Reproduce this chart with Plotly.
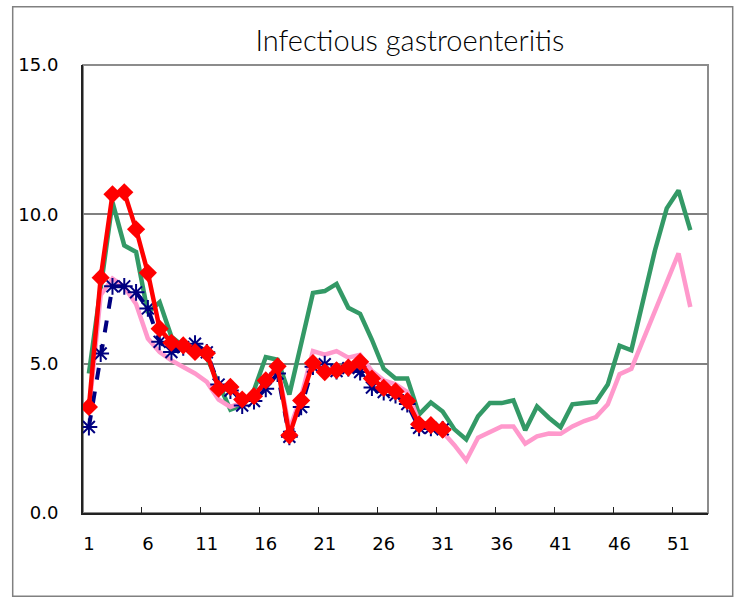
import plotly.graph_objects as go

weeks = list(range(1, 53))
tick_weeks = [1, 6, 11, 16, 21, 26, 31, 36, 41, 46, 51]
tick_labels = [str(w) for w in tick_weeks]
y_ticks = [0, 5, 10, 15]
y_labels = ["0.0", "5.0", "10.0", "15.0"]

green = [4.67, 7.6, 10.41, 8.96, 8.74, 6.7, 7.06, 5.9, 5.58, 5.52, 5.2, 4.33, 3.46, 3.61, 4.11,
         5.22, 5.13, 3.97, 5.75, 7.37, 7.43, 7.67, 6.87, 6.67, 5.8, 4.83, 4.5, 4.5, 3.3, 3.7,
         3.4, 2.8, 2.46, 3.24, 3.68, 3.68, 3.77, 2.77, 3.57, 3.19, 2.87, 3.64, 3.68, 3.72, 4.3,
         5.6, 5.45, 7.12, 8.79, 10.2, 10.8, 9.47]

pink = [3.4, 7.3, 7.85, 7.57, 7.0, 5.84, 5.39, 5.11, 4.89, 4.67, 4.39, 3.8, 3.55, 3.7, 3.9,
        4.4, 4.95, 2.8, 3.9, 5.42, 5.3, 5.42, 5.2, 5.3, 4.75, 4.44, 4.31, 4.05, 3.05, 2.94,
        2.71, 2.27, 1.76, 2.52, 2.71, 2.9, 2.9, 2.32, 2.57, 2.66, 2.65, 2.9, 3.08, 3.21, 3.64,
        4.65, 4.83, 5.8, 6.8, 7.75, 8.69, 6.9]

navy = [2.88, 5.34, 7.59, 7.59, 7.39, 6.85, 5.73, 5.39, 5.55, 5.67, 5.38, 4.3, 4.1, 3.6, 3.75,
        4.16, 4.67, 2.55, 3.55, 4.9, 4.98, 4.75, 4.85, 4.72, 4.2, 4.05, 3.95, 3.65, 2.85, 2.85,
        2.8]

red = [3.55, 7.88, 10.67, 10.74, 9.5, 8.04, 6.17, 5.7, 5.61, 5.39, 5.35, 4.16, 4.22, 3.8, 3.91,
       4.44, 4.91, 2.6, 3.77, 5.02, 4.72, 4.78, 4.87, 5.06, 4.5, 4.19, 4.07, 3.75, 2.97, 2.94,
       2.79]

n_slots = 53
x_range = [0.5, n_slots + 0.5]
boundary_ticks = [w - 0.5 for w in tick_weeks[1:]]

FONT = "Lato"
TICK_FONT = dict(family="DejaVu Sans", size=18, color="black")

fig = go.Figure()
fig.add_trace(go.Scatter(x=weeks, y=green, mode="lines",
                         line=dict(color="#339966", width=4.5), showlegend=False))
fig.add_trace(go.Scatter(x=weeks, y=pink, mode="lines",
                         line=dict(color="#ff99cc", width=4.5), showlegend=False))
fig.add_trace(go.Scatter(x=weeks[:len(navy)], y=navy, mode="lines+markers",
                         line=dict(color="#000080", width=4, dash="dash"),
                         marker=dict(symbol="asterisk-open", size=14,
                                     line=dict(color="#000080", width=2)),
                         showlegend=False))
fig.add_trace(go.Scatter(x=weeks[:len(red)], y=red, mode="lines+markers",
                         line=dict(color="#ff0000", width=4.5),
                         marker=dict(symbol="diamond", size=14, color="#ff0000"),
                         showlegend=False))

fig.update_layout(
    width=741, height=597,
    margin=dict(l=83, r=33, t=65, b=84),
    paper_bgcolor="white", plot_bgcolor="white",
    font=dict(family=FONT, size=18, color="black"),
    title=dict(text="Infectious gastroenteritis", x=0.523, xref="paper", xanchor="center",
               y=1 - 41 / 597, yref="container", yanchor="middle",
               font=dict(family=FONT, size=29, color="black", weight=300)),
    xaxis=dict(range=x_range, tickvals=tick_weeks, ticktext=tick_labels, ticks="",
               showgrid=False, zeroline=False, showline=True, linecolor="#222222",
               linewidth=2, ticklabelstandoff=13, tickfont=TICK_FONT,
               minor=dict(tickmode="array", tickvals=boundary_ticks, ticks="inside",
                          ticklen=6, tickwidth=1.2, tickcolor="#222222", showgrid=False)),
    yaxis=dict(range=[0, 15], tickvals=y_ticks, ticktext=y_labels, ticks="",
               showgrid=True, gridcolor="#808080", gridwidth=1.5, zeroline=False,
               showline=True, linecolor="#222222", linewidth=2,
               ticklabelstandoff=19, tickfont=TICK_FONT),
    shapes=[
        dict(type="rect", xref="paper", yref="paper", x0=0, x1=1, y0=0, y1=1,
             line=dict(color="#8c8c8c", width=2), layer="below"),
        dict(type="rect", xref="paper", yref="paper",
             x0=(12.7 - 83) / 625, x1=(732.7 - 83) / 625,
             y0=(512.7 - 596) / 447.7, y1=(512.7 - 6.7) / 447.7,
             line=dict(color="#808080", width=1.5), layer="below"),
    ],
)

fig.write_html("out.html", config={"displayModeBar": False},
               post_script="document.body.style.margin='0';")
